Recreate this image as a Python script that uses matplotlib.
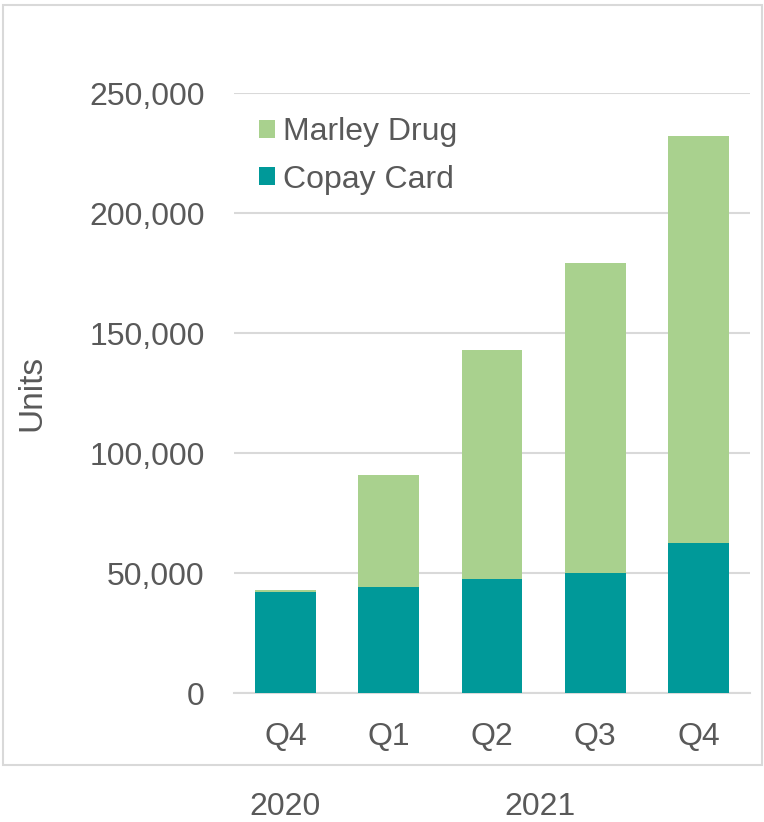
import matplotlib
matplotlib.use("Agg")
import matplotlib.pyplot as plt
from matplotlib.patches import Rectangle
from matplotlib.ticker import FuncFormatter

plt.rcParams['font.family'] = ['Liberation Sans', 'DejaVu Sans']

# data
quarters = ["Q4", "Q1", "Q2", "Q3", "Q4"]
years = ["2020", "2021"]
copay_card = [42000, 44000, 47500, 50000, 62500]
marley_drug = [1000, 47000, 95500, 129000, 169500]

teal = "#009999"
green = "#a9d18e"
text_c = "#595959"
grid_c = "#d9d9d9"
fs = 23

W, H = 764, 822
fig = plt.figure(figsize=(W / 100, H / 100), dpi=100)

# axes placed in pixel coordinates
left, right, top, bottom = 234, 750, 93, 693
ax = fig.add_axes([left / W, 1 - bottom / H, (right - left) / W, (bottom - top) / H])

x = list(range(len(quarters)))
ax.bar(x, copay_card, width=0.59, color=teal, label="Copay Card", zorder=3)
ax.bar(x, marley_drug, width=0.59, bottom=copay_card, color=green, label="Marley Drug", zorder=3)

ax.set_xlim(-0.5, 4.5)
ax.set_ylim(0, 250000)
ax.set_yticks(range(0, 250001, 50000))
ax.yaxis.set_major_formatter(FuncFormatter(lambda v, p: f"{int(v):,}"))
ax.set_xticks(x)
ax.set_xticklabels(quarters)
ax.grid(axis="y", color=grid_c, lw=1.5, zorder=0)
for s in ["left", "right", "top"]:
    ax.spines[s].set_visible(False)
ax.spines["bottom"].set_color(grid_c)
ax.spines["bottom"].set_linewidth(1.5)
ax.tick_params(axis="both", length=0, labelsize=fs, colors=text_c)
ax.tick_params(axis="y", pad=21)
ax.tick_params(axis="x", pad=21)
ax.set_ylabel("Units", fontsize=24, color=text_c, labelpad=30)

# year labels under the frame
fig.text(285 / W, 1 - 807 / H, years[0], ha="center", va="center", fontsize=fs, color=text_c)
fig.text(540 / W, 1 - 807 / H, years[1], ha="center", va="center", fontsize=fs, color=text_c)

# legend, Marley Drug on top
h, l = ax.get_legend_handles_labels()
leg = fig.legend(h[::-1], l[::-1], loc="upper left", bbox_to_anchor=(243 / W, 1 - 101 / H),
                 frameon=False, fontsize=fs, labelcolor=text_c, handlelength=0.5,
                 handleheight=0.5, handletextpad=0.25, labelspacing=0.55, borderpad=0)

# light frame around the chart area
fig.patches.append(Rectangle((3 / W, 1 - 765 / H), 759 / W, 760 / H, transform=fig.transFigure,
                             fill=False, edgecolor=grid_c, lw=1.5))

fig.savefig("out.png", dpi=100)
